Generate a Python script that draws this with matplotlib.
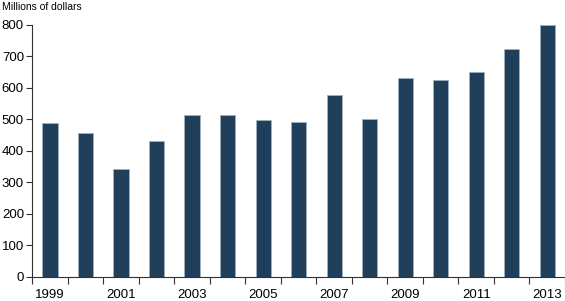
import matplotlib
matplotlib.use("Agg")
import matplotlib.pyplot as plt
import numpy as np

years = list(range(1999, 2014))
values = [487, 456, 343, 430, 514, 514, 496, 490, 576, 500, 632, 623, 650, 722, 798]
yticks = [0, 100, 200, 300, 400, 500, 600, 700, 800]
xlabels = [str(y) if y % 2 == 1 else "" for y in years]

plt.rcParams['font.family'] = ['Liberation Sans Narrow', 'Liberation Sans', 'DejaVu Sans']

fig = plt.figure(figsize=(5.65, 3.01), dpi=100)
ax = fig.add_axes([32.3/565, 1-276.7/301, 1-32.3/565, (276.7-24.7)/301])

x = np.arange(len(years))
ax.bar(x, values, width=0.43, color='#1f3f5b', edgecolor='#9fb0bf', linewidth=0.6)

ax.set_xlim(-0.5, len(years)-0.5)
ax.set_ylim(0, 800)
ax.set_yticks(yticks)
ax.set_yticklabels([str(v) for v in yticks], fontsize=9.5)

ax.set_xticks(np.arange(len(years)+1) - 0.5)
ax.set_xticklabels([])
ax.set_xticks(x, minor=True)
ax.set_xticklabels(xlabels, minor=True, fontsize=9.5)
ax.tick_params(axis='x', which='major', length=5, width=0.8, color='#333333', direction='out')
ax.tick_params(axis='x', which='minor', length=0, pad=8.5)
ax.tick_params(axis='y', length=4, width=0.8, color='#333333', pad=2)

for s in ['top', 'right']:
    ax.spines[s].set_visible(False)
for s in ['left', 'bottom']:
    ax.spines[s].set_color('#333333')
    ax.spines[s].set_linewidth(0.8)

fig.text(2/565, 1-7/301, "Millions of dollars", fontsize=7.5, ha='left', va='center')

fig.savefig("out.png", dpi=100)
